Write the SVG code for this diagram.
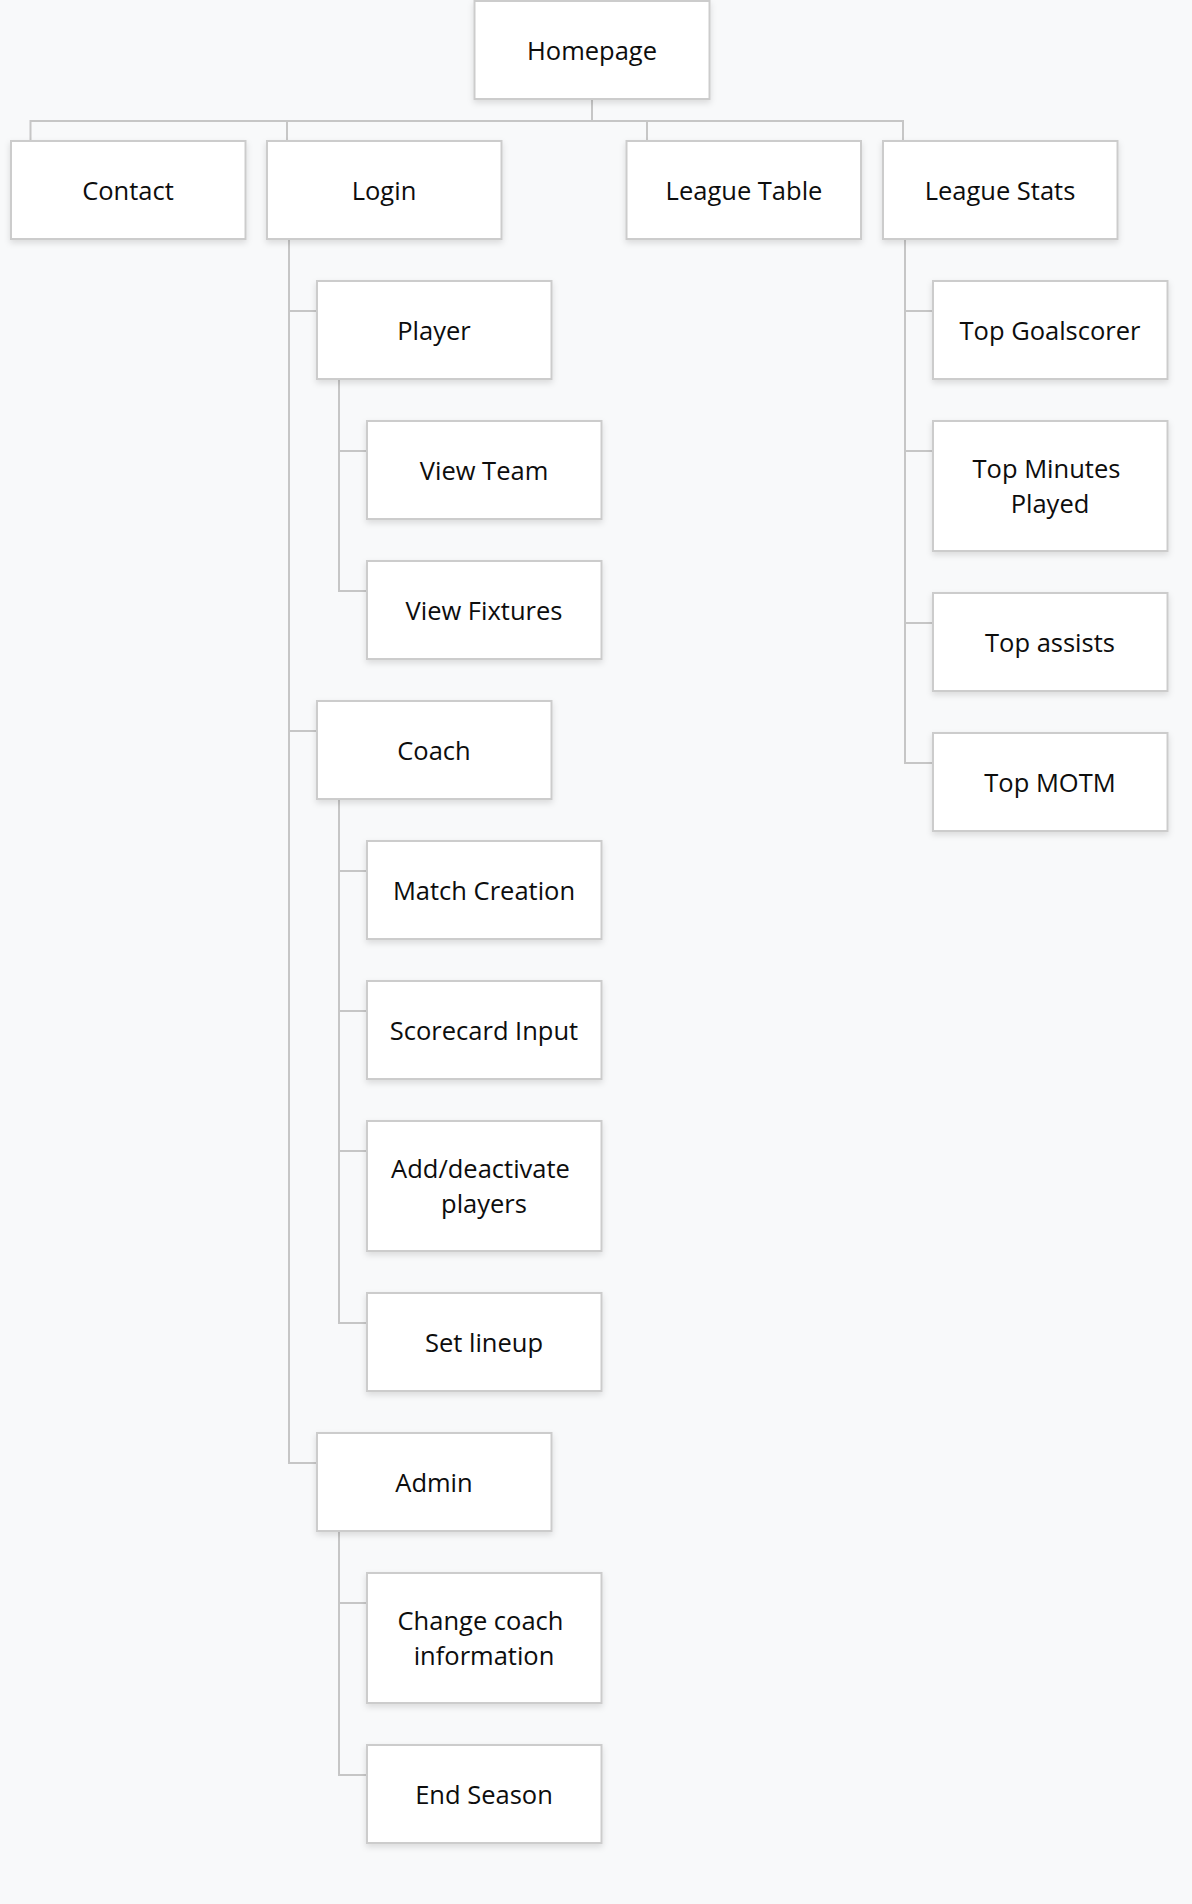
<svg xmlns="http://www.w3.org/2000/svg" width="1192" height="1904" viewBox="0 0 1192 1904">
<defs>
<filter id="sh" x="-10%" y="-10%" width="120%" height="130%">
<feDropShadow dx="0" dy="3" stdDeviation="3" flood-color="#000" flood-opacity="0.12"/>
</filter>
<style>
.box{fill:#ffffff;stroke:#cccccc;stroke-width:2;filter:url(#sh)}
.lbl{font-family:"Open Sans","Noto Sans","Liberation Sans",sans-serif;font-size:25.5px;fill:#0d0d0d;text-anchor:middle}
.con{fill:none;stroke:#c6c6c6;stroke-width:2}
</style>
</defs>
<rect x="0" y="0" width="1192" height="1904" fill="#f8f9fa"/>
<g id="connectors">
<path class="con" d="M592 99 V121 M30.5 121 H903 M30.5 120 V141 M287 120 V141 M647 120 V141 M903 120 V141"/>
<path class="con" d="M289 239 V1463 M288 311 H317 M288 731 H317 M288 1463 H317"/>
<path class="con" d="M339 379 V591 M338 451 H367 M338 591 H367"/>
<path class="con" d="M339 799 V1323 M338 871 H367 M338 1011 H367 M338 1151 H367 M338 1323 H367"/>
<path class="con" d="M339 1531 V1775 M338 1603 H367 M338 1775 H367"/>
<path class="con" d="M905 239 V763 M904 311 H933 M904 451 H933 M904 623 H933 M904 763 H933"/>
</g>
<g id="homepage"><rect class="box" x="474.5" y="1" width="235" height="98"/><text class="lbl" x="592" y="59.5">Homepage</text></g>
<g id="contact"><rect class="box" x="11" y="141" width="234.5" height="98"/><text class="lbl" x="128" y="199.5">Contact</text></g>
<g id="login"><rect class="box" x="267" y="141" width="234.5" height="98"/><text class="lbl" x="384" y="199.5">Login</text></g>
<g id="league-table"><rect class="box" x="626.5" y="141" width="234.5" height="98"/><text class="lbl" x="744" y="199.5">League Table</text></g>
<g id="league-stats"><rect class="box" x="883" y="141" width="234.5" height="98"/><text class="lbl" x="1000" y="199.5">League Stats</text></g>
<g id="player"><rect class="box" x="317" y="281" width="234.5" height="98"/><text class="lbl" x="434" y="339.5">Player</text></g>
<g id="view-team"><rect class="box" x="367" y="421" width="234.5" height="98"/><text class="lbl" x="484" y="479.5">View Team</text></g>
<g id="view-fixtures"><rect class="box" x="367" y="561" width="234.5" height="98"/><text class="lbl" x="484" y="619.5">View Fixtures</text></g>
<g id="coach"><rect class="box" x="317" y="701" width="234.5" height="98"/><text class="lbl" x="434" y="759.5">Coach</text></g>
<g id="match-creation"><rect class="box" x="367" y="841" width="234.5" height="98"/><text class="lbl" x="484" y="899.5">Match Creation</text></g>
<g id="scorecard-input"><rect class="box" x="367" y="981" width="234.5" height="98"/><text class="lbl" x="484" y="1039.5">Scorecard Input</text></g>
<g id="add-deactivate"><rect class="box" x="367" y="1121" width="234.5" height="130"/><text class="lbl" x="480.5" y="1178">Add/deactivate</text><text class="lbl" x="484" y="1213">players</text></g>
<g id="set-lineup"><rect class="box" x="367" y="1293" width="234.5" height="98"/><text class="lbl" x="484" y="1351.5">Set lineup</text></g>
<g id="admin"><rect class="box" x="317" y="1433" width="234.5" height="98"/><text class="lbl" x="434" y="1491.5">Admin</text></g>
<g id="change-coach"><rect class="box" x="367" y="1573" width="234.5" height="130"/><text class="lbl" x="480.5" y="1630">Change coach</text><text class="lbl" x="484" y="1665">information</text></g>
<g id="end-season"><rect class="box" x="367" y="1745" width="234.5" height="98"/><text class="lbl" x="484" y="1803.5">End Season</text></g>
<g id="top-goalscorer"><rect class="box" x="933" y="281" width="234.5" height="98"/><text class="lbl" x="1050" y="339.5">Top Goalscorer</text></g>
<g id="top-minutes"><rect class="box" x="933" y="421" width="234.5" height="130"/><text class="lbl" x="1046.5" y="478">Top Minutes</text><text class="lbl" x="1050" y="513">Played</text></g>
<g id="top-assists"><rect class="box" x="933" y="593" width="234.5" height="98"/><text class="lbl" x="1050" y="651.5">Top assists</text></g>
<g id="top-motm"><rect class="box" x="933" y="733" width="234.5" height="98"/><text class="lbl" x="1050" y="791.5">Top MOTM</text></g>
</svg>
